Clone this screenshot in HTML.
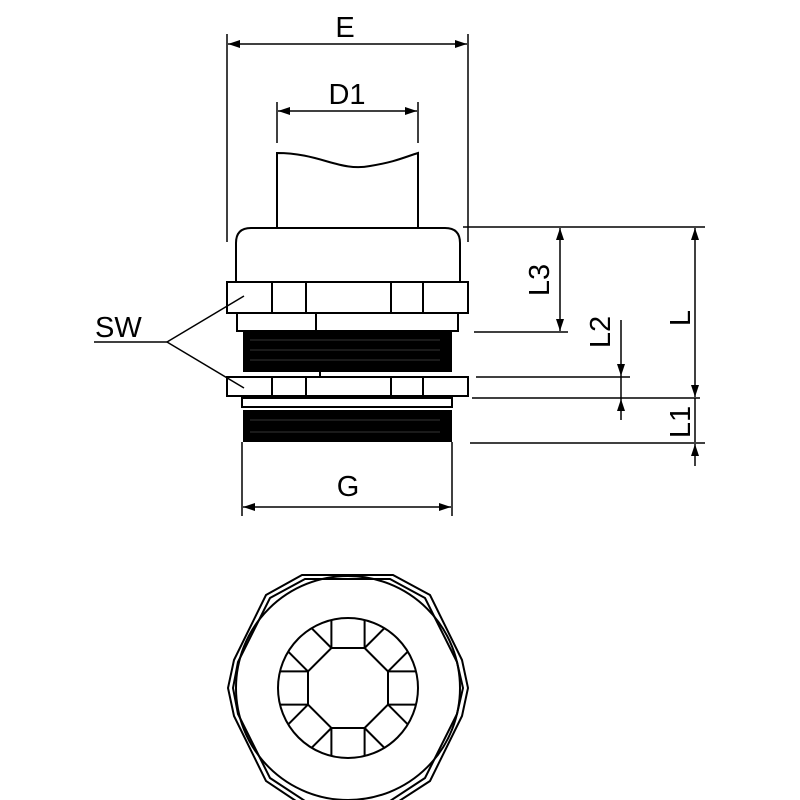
<!DOCTYPE html>
<html><head><meta charset="utf-8"><style>
html,body{margin:0;padding:0;background:#fff}
svg{display:block}
text{font-family:"Liberation Sans",sans-serif;font-size:29px;fill:#000}
</style></head><body>
<svg width="800" height="800" viewBox="0 0 800 800" xmlns="http://www.w3.org/2000/svg">
<defs>
<marker id="a" viewBox="0 0 12 8" refX="12" refY="4" markerWidth="12" markerHeight="8" markerUnits="userSpaceOnUse" orient="auto-start-reverse"><path d="M0,0 L12,4 L0,8 z" fill="#000"/></marker>
</defs>
<g stroke="#000" fill="none" stroke-width="2">
<!-- E dimension -->
<line x1="227" y1="34" x2="227" y2="242" stroke-width="1.5"/>
<line x1="468" y1="34" x2="468" y2="242" stroke-width="1.5"/>
<line x1="228" y1="44" x2="467" y2="44" stroke-width="1.5" marker-start="url(#a)" marker-end="url(#a)"/>
<!-- D1 -->
<line x1="277" y1="102" x2="277" y2="143" stroke-width="1.5"/>
<line x1="418" y1="102" x2="418" y2="143" stroke-width="1.5"/>
<line x1="278" y1="111" x2="417" y2="111" stroke-width="1.5" marker-start="url(#a)" marker-end="url(#a)"/>
<!-- cable -->
<path d="M277,228 L277,153 C320,153 340,172 370,166 C395,162 405,157 418,153 L418,228"/>
<!-- cap -->
<path d="M236,282 L236,243 Q236,228 251,228 L445,228 Q460,228 460,243 L460,282"/>
<!-- nut 1 -->
<rect x="227" y="282" width="241" height="31"/>
<line x1="272" y1="282" x2="272" y2="313"/><line x1="306" y1="282" x2="306" y2="313"/>
<line x1="391" y1="282" x2="391" y2="313"/><line x1="423" y1="282" x2="423" y2="313"/>
<rect x="237" y="313" width="221" height="18"/>
<line x1="316" y1="313" x2="316" y2="331"/>
<!-- nut 2 -->
<rect x="227" y="377" width="241" height="19"/>
<line x1="272" y1="377" x2="272" y2="396"/><line x1="306" y1="377" x2="306" y2="396"/>
<line x1="391" y1="377" x2="391" y2="396"/><line x1="423" y1="377" x2="423" y2="396"/>
<rect x="242" y="398" width="210" height="9"/>
<!-- G -->
<line x1="242" y1="442" x2="242" y2="516" stroke-width="1.5"/>
<line x1="452" y1="442" x2="452" y2="516" stroke-width="1.5"/>
<line x1="243" y1="507" x2="451" y2="507" stroke-width="1.5" marker-start="url(#a)" marker-end="url(#a)"/>
<!-- SW -->
<line x1="94" y1="342" x2="167" y2="342" stroke-width="1.5"/>
<line x1="167" y1="342" x2="244" y2="296" stroke-width="1.5"/>
<line x1="167" y1="342" x2="244" y2="388" stroke-width="1.5"/>
<!-- right dims -->
<g stroke-width="1.5">
<line x1="463" y1="227" x2="705" y2="227"/>
<line x1="474" y1="332" x2="568" y2="332"/>
<line x1="476" y1="377" x2="630" y2="377"/>
<line x1="472" y1="398" x2="700" y2="398"/>
<line x1="470" y1="443" x2="705" y2="443"/>
<line x1="560" y1="228" x2="560" y2="331" marker-start="url(#a)" marker-end="url(#a)"/>
<line x1="621" y1="320" x2="621" y2="376" marker-end="url(#a)"/>
<line x1="621" y1="420" x2="621" y2="399" marker-end="url(#a)"/>
<line x1="621" y1="376" x2="621" y2="399"/>
<line x1="695" y1="228" x2="695" y2="397" marker-start="url(#a)" marker-end="url(#a)"/>
<line x1="695" y1="398" x2="695" y2="442" />
<line x1="695" y1="466" x2="695" y2="444" marker-end="url(#a)"/>
</g>
</g>
<!-- threads -->
<rect x="243" y="331" width="209" height="41" fill="#000"/>
<rect x="243" y="410" width="209" height="32" fill="#000"/>
<g stroke="#555" stroke-width="1" opacity="0.6">
<line x1="250" y1="340" x2="440" y2="340"/><line x1="250" y1="350" x2="440" y2="350"/><line x1="250" y1="360" x2="440" y2="360"/>
<line x1="250" y1="420" x2="440" y2="420"/><line x1="250" y1="432" x2="440" y2="432"/>
</g>
<line x1="243" y1="374" x2="452" y2="374" stroke="#fff" stroke-width="3"/>
<line x1="320" y1="372" x2="320" y2="377" stroke="#000" stroke-width="2"/>
<!-- labels -->
<text x="345" y="37" text-anchor="middle">E</text>
<text x="347" y="104" text-anchor="middle">D1</text>
<text x="348" y="496" text-anchor="middle">G</text>
<text x="95" y="337">SW</text>
<text transform="translate(549,280) rotate(-90)" text-anchor="middle">L3</text>
<text transform="translate(610,332) rotate(-90)" text-anchor="middle">L2</text>
<text transform="translate(690,318) rotate(-90)" text-anchor="middle">L</text>
<text transform="translate(690,422) rotate(-90)" text-anchor="middle">L1</text>
<!-- bottom view -->
<g stroke="#000" fill="none" stroke-width="2">
<polygon points="302,575 393,575 430,595 462,660 468,688 462,716 430,781 393,805 302,805 266,781 234,716 228,688 234,660 266,595"/>
<polygon points="305,579 390,579 425,598 457,662 463,688 457,714 425,778 390,801 305,801 270,778 238,714 233,688 238,662 270,598"/>
<circle cx="348" cy="688" r="112"/>
<circle cx="348" cy="688" r="70"/>
<polygon points="364.6,648 388,671.4 388,704.6 364.6,728 331.4,728 308,704.6 308,671.4 331.4,648"/>
<g transform="translate(348,688)">
<g id="q"><line x1="40" y1="16.6" x2="68" y2="16.6"/><line x1="40" y1="16.6" x2="59.8" y2="36.4"/><line x1="40" y1="-16.6" x2="68" y2="-16.6"/><line x1="40" y1="-16.6" x2="59.8" y2="-36.4"/></g>
<use href="#q" transform="rotate(90)"/><use href="#q" transform="rotate(180)"/><use href="#q" transform="rotate(270)"/>
</g>
</g>
</svg>
</body></html>
